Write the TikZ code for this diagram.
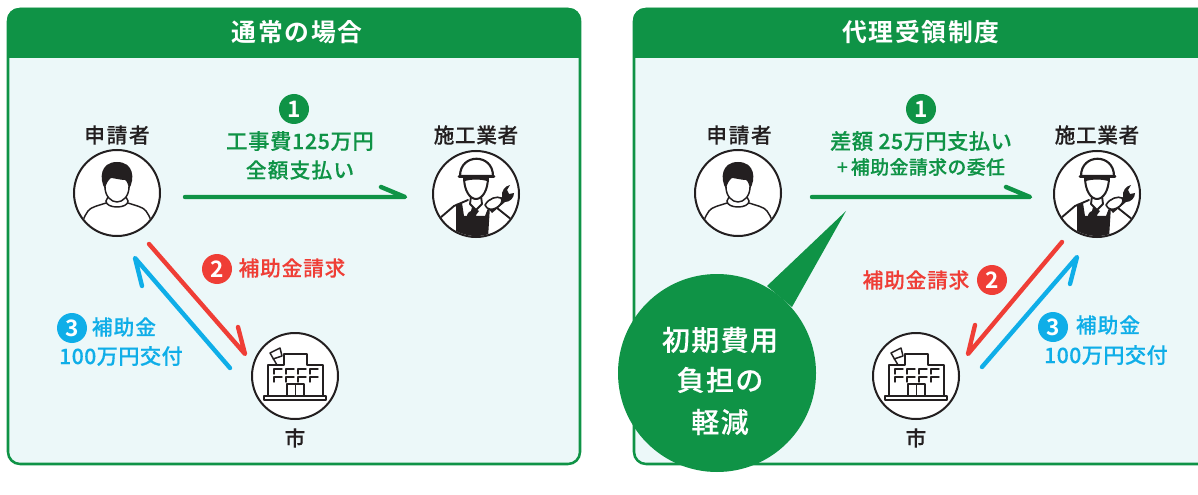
\documentclass[tikz,border=0pt]{standalone}
\usepackage{fontspec}
\setmainfont{Noto Sans CJK JP}[BoldFont={Noto Sans CJK JP Bold}]
\newfontfamily\medf{Noto Sans CJK JP Medium}[FakeBold=0.25]
\usetikzlibrary{calc}
\definecolor{gr}{HTML}{0F9346}
\definecolor{bgc}{HTML}{ECF8F9}
\definecolor{rd}{HTML}{EF3E36}
\definecolor{bl}{HTML}{0FAEE8}
\definecolor{ink}{HTML}{231F20}
\newcommand{\fsz}[1]{\fontsize{#1}{#1}\selectfont}
\newcommand{\trk}[1]{\addfontfeature{LetterSpace=#1}}
\tikzset{
 panel/.style={draw=gr,line width=1.9pt,fill=bgc,rounded corners=9pt},
 head/.style={fill=gr},
 title/.style={text=white,font=\bfseries\fsz{18.6}\trk{7},inner sep=0,anchor=center},
 who/.style={text=ink,font=\medf\fsz{15.5}\trk{8},inner sep=0,anchor=center},
 icon/.style={circle,draw=ink,line width=1.5pt,fill=white,minimum size=64.5pt,inner sep=0},
 num/.style={circle,minimum size=22.5pt,inner sep=0,text=white,font=\bfseries\fsz{17}},
 lab/.style={inner sep=0,anchor=center,font=\medf\fsz{15.5}\trk{6}},
 flow/.style={line width=3.3pt,line cap=round,line join=round},
 thin/.style={draw=ink,line width=1.1pt,line cap=round,line join=round},
 bub/.style={text=white,font=\medf\fsz{21}\trk{5},inner sep=0,anchor=center},
}
\newcommand{\personart}[1]{%
 \begin{scope}[shift={(#1)}]
  \clip (0,0) circle (42);
  \draw[thin] (-11,10) .. controls (-20,13) and (-26,14) .. (-29,18) .. controls (-31,21) and (-33,24) .. (-34,28);
  \draw[thin] (11,10) .. controls (20,13) and (26,14) .. (29,18) .. controls (31,21) and (33,24) .. (34,28);
  \draw[thin] (-11,8) .. controls (-11,16) and (11,16) .. (11,8);
  \draw[thin] (-9,4) -- (-11,8); \draw[thin] (9,4) -- (11,8);
  \fill[white] (-12,-6) .. controls (-12,3) and (-6,9) .. (0,9) .. controls (6,9) and (12,3) .. (12,-6) -- cycle;
  \draw[thin] (-12,-6) .. controls (-12,3) and (-6,9) .. (0,9) .. controls (6,9) and (12,3) .. (12,-6);
  \fill[ink] (-12,-4) .. controls (-18,-14) and (-17,-31) .. (0,-31) .. controls (17,-31) and (18,-14) .. (12,-4)
    .. controls (11,-9) and (10,-12) .. (8,-13) .. controls (3,-13) and (-3,-15) .. (-6,-15) .. controls (-9,-13) and (-11,-9) .. (-12,-4) -- cycle;
 \end{scope}}
\newcommand{\workerart}[1]{%
 \begin{scope}[shift={(#1)}]
  \clip (0,0) circle (42);
  \draw[thin,line width=1.4pt] (-8,6) -- (-22,12) -- (-36,24);
  \draw[thin,line width=1.4pt] (16,10) -- (36,26);
  \fill[ink] (-20,10) -- (-14,9) -- (-12,22) -- (9,22) -- (12,14) -- (14,12) -- (12,44) -- (-20,44) -- cycle;
  \draw[thin,line width=1.4pt,fill=white] (-5,2) -- (-6,10) -- (0,16) -- (6,10) -- (5,2) -- cycle;
  \fill[white] (-12,-17) .. controls (-12,-3) and (-6,5) .. (0,5) .. controls (6,5) and (12,-3) .. (12,-17) -- cycle;
  \draw[thin,line width=1.5pt] (-12,-17) .. controls (-12,-3) and (-6,5) .. (0,5) .. controls (6,5) and (12,-3) .. (12,-17);
  \fill[ink] (-12.5,-17) -- (12.5,-17) -- (11.5,-13) .. controls (4,-15) and (-4,-15) .. (-11.5,-13) -- cycle;
  \draw[thin,line width=1.6pt,fill=white] (-16,-18) .. controls (-16,-41) and (17,-41) .. (17,-18) -- cycle;
  \draw[ink,line width=2.2pt,line cap=round] (-17,-17.5) -- (18,-17.5);
  % lower (held) wrench
  \fill[ink] (-4,13) -- (3,17) -- (0,21) .. controls (2,25) and (0,30) .. (-4,30) -- (-2,25) -- (-5,23) -- (-9,26) .. controls (-10,21) and (-8,18) .. (-5,17) -- cycle;
  % upper wrench
  \fill[ink] (11,13) -- (26,3) .. controls (25,-3) and (29,-8) .. (34,-9) -- (31,-4) -- (33,0) -- (38,-1) .. controls (38,4) and (34,8) .. (29,8) -- (16,19) -- cycle;
  % hand
  \draw[thin,line width=1.2pt,fill=white] (9,11) .. controls (13,4) and (21,2) .. (25,4) .. controls (28,7) and (24,12) .. (20,14) .. controls (16,16) and (11,16) .. (9,11) -- cycle;
 \end{scope}}
\newcommand{\cityart}[1]{%
 \begin{scope}[shift={(#1)}]
  \draw[thin] (-18,-11) -- (-25,-23) -- (-15,-28) -- (-13,-20) -- (-22,-17);
  \draw[thin] (-27,20) -- (-27,-11) -- (-11,-11) -- (-11,-22) -- (12,-22) -- (12,-11) -- (28,-11) -- (28,20);
  \draw[thin,fill=white] (-31,20) rectangle (31,24);
  \foreach \wx in {-21,-9,3,15}{
    \draw[thin] (\wx+8,-7) -- (\wx,-7) -- (\wx,-2);
    \draw[thin] (\wx+8,1) -- (\wx,1) -- (\wx,6);
  }
  \draw[thin] (-8,20) -- (-8,8) -- (9,8) -- (9,20);
  \draw[thin] (0.5,8) -- (0.5,20);
 \end{scope}}
\begin{document}
\begin{tikzpicture}[x=0.75pt,y=-0.75pt]
\useasboundingbox (0,0) rectangle (1198,495);
\clip (0,0) rectangle (1198,495);
% left panel
\draw[panel] (8,9) rectangle (580,464);
\fill[head,rounded corners=9pt] (7,8) rectangle (581,30);
\fill[head] (7,20) rectangle (581,58);
\node[title] (ltitle) at (297,32) {通常の場合};
% right panel
\draw[panel] (634,9) rectangle (1215,464);
\fill[head,rounded corners=9pt] (633,8) rectangle (1215,30);
\fill[head] (633,20) rectangle (1215,58);
\node[title] (rtitle) at (921,32) {代理受領制度};
% left nodes
\node[icon] (lp) at (117,193) {}; \personart{117,193}
\node[icon] (lw) at (476,194) {}; \workerart{476,194}
\node[icon] (lc) at (295,376) {}; \cityart{295,376}
\node[who] (lpt) at (117,135) {申請者};
\node[who,font=\medf\fsz{15.5}\trk{3}] (lwt) at (476,135) {施工業者};
\node[who] (lct) at (295,438) {市};
% right nodes
\node[icon] (rp) at (738,193) {}; \personart{738,193}
\node[icon] (rw) at (1097,194) {}; \workerart{1097,194}
\node[icon] (rc) at (916,376) {}; \cityart{916,376}
\node[who] (rpt) at (739,135) {申請者};
\node[who,font=\medf\fsz{15.5}\trk{3}] (rwt) at (1097,135) {施工業者};
\node[who] (rct) at (916,438) {市};
% coordinates for arrows
\coordinate (a1) at (185,197); \coordinate (a2) at (405,197); \coordinate (a3) at (381,187);
\coordinate (b1) at (149,244); \coordinate (b2) at (245,354); \coordinate (b3) at (238,327);
\coordinate (c1) at (230,368); \coordinate (c2) at (135,258); \coordinate (c3) at (142,286);
\coordinate (d1) at (812,197); \coordinate (d2) at (1030,197); \coordinate (d3) at (1006,187);
\coordinate (e1) at (1062,242); \coordinate (e2) at (968,354); \coordinate (e3) at (975,325);
\coordinate (f1) at (982,367); \coordinate (f2) at (1077,257); \coordinate (f3) at (1070,284);
\draw[flow,draw=gr] (a1) -- (a2) -- (a3);
\draw[flow,draw=rd] (b1) -- (b2) -- (b3);
\draw[flow,draw=bl] (c1) -- (c2) -- (c3);
\draw[flow,draw=gr] (d1) -- (d2) -- (d3);
\draw[flow,draw=rd] (e1) -- (e2) -- (e3);
\draw[flow,draw=bl] (f1) -- (f2) -- (f3);
% left labels
\node[num,fill=gr] (n1) at (294,109) {1};
\node[lab,text=gr,font=\medf\fsz{16}\trk{3}] (t1) at (300,141) {工事費125万円};
\node[lab,text=gr] (t2) at (300,170) {全額支払い};
\node[num,fill=rd] (n2) at (217,269) {2};
\node[lab,text=rd,font=\medf\fsz{15.5}\trk{4}] (t3) at (292,268) {補助金請求};
\node[num,fill=bl] (n3) at (72,328) {3};
\node[lab,text=bl,font=\medf\fsz{15.5}\trk{5}] (t4) at (124,327) {補助金};
\node[lab,text=bl,font=\medf\fsz{15.9}\trk{2}] (t5) at (121,356) {100万円交付};
% right labels
\node[num,fill=gr] (m1) at (921,109) {1};
\node[lab,text=gr,font=\medf\fsz{16}\trk{2}] (u1) at (921,141) {差額 25万円支払い};
\node[lab,text=gr,font=\medf\fsz{14.2}\trk{2}] (u2) at (921,167) {+\,補助金請求の委任};
\node[num,fill=rd] (m2) at (992,280) {2};
\node[lab,text=rd,font=\medf\fsz{15.5}\trk{4}] (u3) at (916,280) {補助金請求};
\node[num,fill=bl] (m3) at (1053,327) {3};
\node[lab,text=bl,font=\medf\fsz{15.5}\trk{5}] (u4) at (1108,325) {補助金};
\node[lab,text=bl,font=\medf\fsz{15.9}\trk{2}] (u5) at (1106,355) {100万円交付};
% bubble
\fill[gr] (767,286) -- (846,211) -- (792,307) -- cycle;
\fill[gr] (717,373) circle (99);
\node[bub] (s1) at (720,340) {初期費用};
\node[bub] (s2) at (720,380) {負担の};
\node[bub] (s3) at (720,422) {軽減};
\end{tikzpicture}
\end{document}
